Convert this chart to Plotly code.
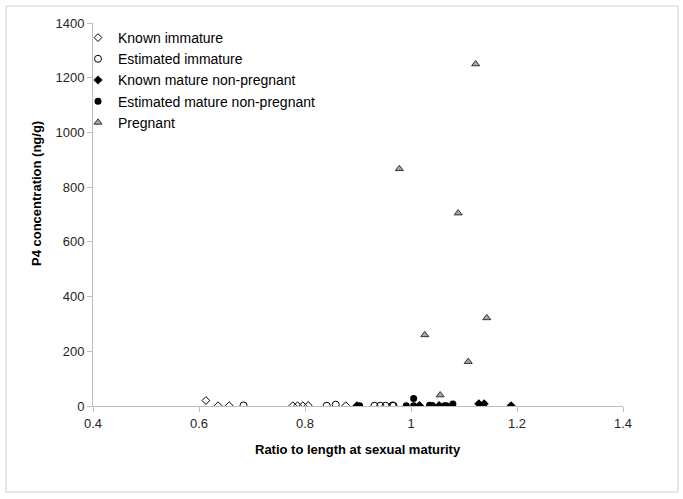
import plotly.graph_objects as go

# Data
known_immature_x = [0.613, 0.636, 0.657, 0.777, 0.786, 0.796, 0.806, 0.877]
known_immature_y = [20, 1, 1, 1, 1, 1, 2, 1]

est_immature_x = [0.684, 0.841, 0.858, 0.931, 0.942, 0.952, 0.965, 0.967]
est_immature_y = [2, 1, 5, 1, 1, 1, 2, 1]

known_mature_x = [0.898, 1.016, 1.053, 1.128, 1.138, 1.189]
known_mature_y = [1, 2, 2, 8, 8, 1]

est_mature_x = [0.903, 0.991, 1.005, 1.005, 1.035, 1.040, 1.063, 1.067, 1.079]
est_mature_y = [1, 1, 27, 1, 3, 2, 1, 1, 7]

pregnant_x = [0.978, 1.026, 1.055, 1.089, 1.108, 1.122, 1.143]
pregnant_y = [867, 260, 40, 705, 162, 1250, 322]

x_ticks = [0.4, 0.6, 0.8, 1.0, 1.2, 1.4]
x_tick_labels = ["0.4", "0.6", "0.8", "1", "1.2", "1.4"]
y_ticks = [0, 200, 400, 600, 800, 1000, 1200, 1400]

FONT = "Liberation Sans, Arial, sans-serif"

fig = go.Figure()
fig.add_trace(go.Scatter(x=known_immature_x, y=known_immature_y, mode="markers",
                         name="Known immature",
                         marker=dict(symbol="diamond-open", size=6, color="black",
                                     line=dict(width=1, color="black"))))
fig.add_trace(go.Scatter(x=est_immature_x, y=est_immature_y, mode="markers",
                         name="Estimated immature",
                         marker=dict(symbol="circle-open", size=7, color="black",
                                     line=dict(width=1, color="black"))))
fig.add_trace(go.Scatter(x=known_mature_x, y=known_mature_y, mode="markers",
                         name="Known mature non-pregnant",
                         marker=dict(symbol="diamond", size=7, color="black")))
fig.add_trace(go.Scatter(x=est_mature_x, y=est_mature_y, mode="markers",
                         name="Estimated mature non-pregnant",
                         marker=dict(symbol="circle", size=7, color="black")))
fig.add_trace(go.Scatter(x=pregnant_x, y=pregnant_y, mode="markers",
                         name="Pregnant",
                         marker=dict(symbol="triangle-up", size=7, color="#A6A6A6",
                                     line=dict(width=1, color="#333333"))))

axis_common = dict(showgrid=False, zeroline=False, showline=True,
                   linecolor="#BFBFBF", linewidth=1, ticks="outside",
                   tickcolor="#BFBFBF", ticklen=5,
                   tickfont=dict(family=FONT, size=13, color="#262626"))

fig.update_xaxes(range=[0.4, 1.4], tickvals=x_ticks, ticktext=x_tick_labels,
                 **axis_common)
fig.update_yaxes(range=[0, 1400], tickvals=y_ticks, **axis_common)

# Axis titles
fig.add_annotation(text="<b>Ratio to length at sexual maturity</b>", xref="paper", yref="paper",
                   x=0.5, y=(406 - 450) / 383, showarrow=False,
                   font=dict(family=FONT, size=13, color="#000000"),
                   xanchor="center", yanchor="middle")
fig.add_annotation(text="<b>P4 concentration (ng/g)</b>", xref="paper", yref="paper",
                   x=(36 - 93) / 530, y=(406 - 194) / 383, showarrow=False, textangle=-90,
                   font=dict(family=FONT, size=13, color="#000000"),
                   xanchor="center", yanchor="middle")

# Outer border
fig.add_shape(type="rect", xref="paper", yref="paper",
              x0=(6 - 93) / 530, x1=(678 - 93) / 530,
              y0=(406 - 492) / 383, y1=(406 - 6) / 383,
              line=dict(color="#D0D0D0", width=1))

fig.update_layout(
    width=683, height=499,
    margin=dict(l=93, r=60, t=23, b=93),
    paper_bgcolor="white", plot_bgcolor="white",
    font=dict(family=FONT, size=13, color="#000000"),
    showlegend=True,
    legend=dict(x=(78 - 93) / 530, y=(406 - 22) / 383, xanchor="left", yanchor="top",
                bgcolor="rgba(0,0,0,0)", font=dict(family=FONT, size=14, color="#000000"),
                itemwidth=30),
)

fig.write_html("out.html", config={"displayModeBar": False},
               post_script="document.body.style.margin='0';")
